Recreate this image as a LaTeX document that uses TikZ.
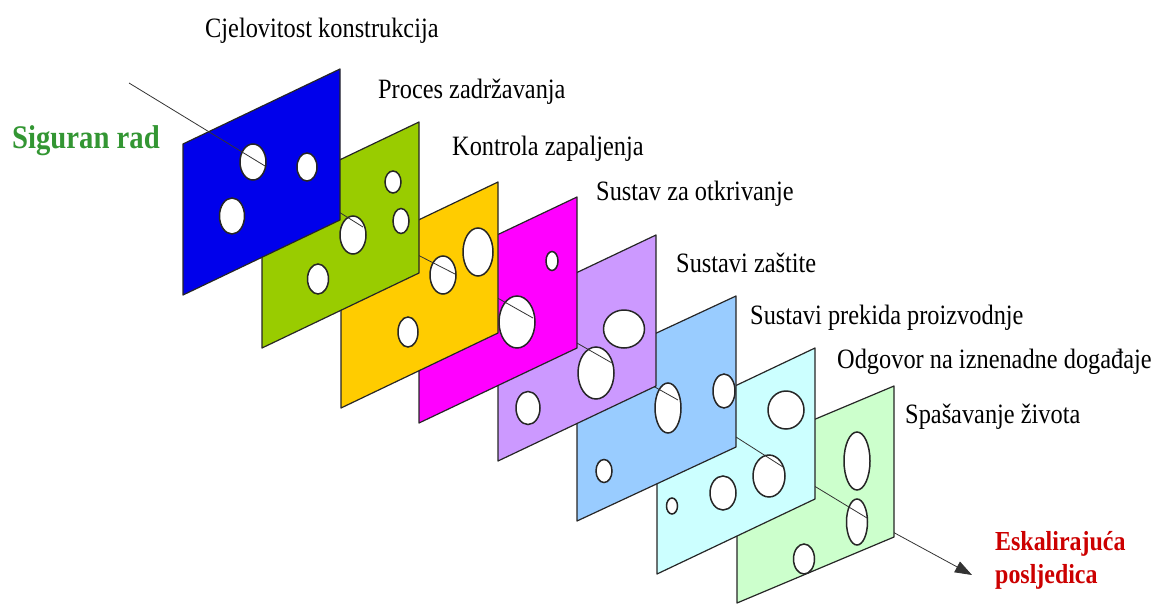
\documentclass[tikz,border=0pt]{standalone}
\usepackage{fontspec}
\setmainfont{Liberation Serif}[FakeStretch=0.87]
\usetikzlibrary{arrows.meta}

\definecolor{plava}{RGB}{0,0,235}
\definecolor{zelena}{RGB}{153,204,0}
\definecolor{zuta}{RGB}{255,204,0}
\definecolor{ruzicasta}{RGB}{255,0,255}
\definecolor{ljubicasta}{RGB}{204,153,255}
\definecolor{svijetloplava}{RGB}{153,204,255}
\definecolor{cijan}{RGB}{204,255,255}
\definecolor{svijetlozelena}{RGB}{204,255,204}
\definecolor{natpiszeleni}{RGB}{51,150,51}
\definecolor{natpiscrveni}{RGB}{204,0,0}

\tikzset{
  ploca/.style={draw=black!85,line width=1.2pt,line join=round},
  rupa/.style={draw=black!85,fill=white,line width=1.5pt},
  linija/.style={draw=black!80,line width=0.8pt},
  natpis/.style={anchor=base west,inner sep=0pt,font=\fontsize{28}{32}\selectfont},
}

\begin{document}
\begin{tikzpicture}[x=1pt,y=-1pt]
        \useasboundingbox (0,0) rectangle (1154,608);

        % Paso 1: Define los puntos de la linea
        \coordinate (P0) at (129,83);
        \coordinate (P1) at (265,166);
        \coordinate (P2) at (363,227);
        \coordinate (P3) at (455,274);
        \coordinate (P4) at (533,318);
        \coordinate (P5) at (612,363);
        \coordinate (P6) at (678,400);
        \coordinate (P7) at (783,467);
        \coordinate (P8) at (867,518);
        \coordinate (P9) at (972,575);

        % Paso 2: Dibuja las placas desde atras hacia adelante
        \draw[linija,-{Triangle[length=17pt,width=12pt]}] (P8) -- (P9);
        \draw[ploca,fill=svijetlozelena] (737,603) -- (737,452) -- (894,386) -- (894,537) -- cycle;
        \draw[rupa] (857,461) ellipse [x radius=13pt, y radius=29pt];
        \draw[rupa] (857,522) ellipse [x radius=10.5pt, y radius=23pt];
        \draw[rupa] (804,559) ellipse [x radius=10.5pt, y radius=15pt];

        \draw[linija] (P7) -- (P8);
        \draw[ploca,fill=cijan] (657,574) -- (657,423) -- (815,348) -- (815,499) -- cycle;
        \draw[rupa] (786,410) ellipse [x radius=18pt, y radius=19pt];
        \draw[rupa] (769,476) ellipse [x radius=16pt, y radius=21pt];
        \draw[rupa] (723,493) ellipse [x radius=13pt, y radius=17pt];
        \draw[rupa] (672,506) ellipse [x radius=5.5pt, y radius=8pt];

        \draw[linija] (P6) -- (P7);
        \draw[ploca,fill=svijetloplava] (577,521) -- (577,370) -- (736,296) -- (736,447) -- cycle;
        \draw[rupa] (668,408) ellipse [x radius=13pt, y radius=25pt];
        \draw[rupa] (724,391) ellipse [x radius=11pt, y radius=17pt];
        \draw[rupa] (604,471) ellipse [x radius=8pt, y radius=11.5pt];

        \draw[linija] (P5) -- (P6);
        \draw[ploca,fill=ljubicasta] (498,461) -- (498,310) -- (656,235) -- (656,386) -- cycle;
        \draw[rupa] (624,329) ellipse [x radius=20.5pt, y radius=19pt];
        \draw[rupa] (596,373) ellipse [x radius=18pt, y radius=26pt];
        \draw[rupa] (528,408) ellipse [x radius=12pt, y radius=16.5pt];

        \draw[linija] (P4) -- (P5);
        \draw[ploca,fill=ruzicasta] (419,423) -- (419,272) -- (577,197) -- (577,348) -- cycle;
        \draw[rupa] (552,261) ellipse [x radius=6pt, y radius=9.5pt];
        \draw[rupa] (517,322) ellipse [x radius=18pt, y radius=26pt];

        \draw[linija] (P3) -- (P4);
        \draw[ploca,fill=zuta] (341,408) -- (341,257) -- (498,182) -- (498,333) -- cycle;
        \draw[rupa] (478,252) ellipse [x radius=15pt, y radius=24pt];
        \draw[rupa] (443,275) ellipse [x radius=13pt, y radius=19pt];
        \draw[rupa] (408,332) ellipse [x radius=10pt, y radius=15pt];

        \draw[linija] (P2) -- (P3);
        \draw[ploca,fill=zelena] (262,348) -- (262,197) -- (419,122) -- (419,273) -- cycle;
        \draw[rupa] (393,182) ellipse [x radius=8pt, y radius=11pt];
        \draw[rupa] (401,221) ellipse [x radius=8pt, y radius=12.5pt];
        \draw[rupa] (353,235) ellipse [x radius=13pt, y radius=19pt];
        \draw[rupa] (318,279) ellipse [x radius=10.5pt, y radius=15pt];

        \draw[linija] (P1) -- (P2);
        \draw[ploca,fill=plava] (183,295) -- (183,144) -- (340,69) -- (340,220) -- cycle;
        \draw[rupa] (253,162) ellipse [x radius=13pt, y radius=18pt];
        \draw[rupa] (307,167) ellipse [x radius=10pt, y radius=14pt];
        \draw[rupa] (232,216) ellipse [x radius=12.5pt, y radius=18pt];

        \draw[linija] (P0) -- (P1);

        % Paso 3: Agrega los nombres de las placas
        \node[natpis] (n1) at (205,37) {Cjelovitost konstrukcija};
        \node[natpis] (n2) at (378,98) {Proces zadržavanja};
        \node[natpis] (n3) at (452,155) {Kontrola zapaljenja};
        \node[natpis] (n4) at (596,200) {Sustav za otkrivanje};
        \node[natpis] (n5) at (676,272) {Sustavi zaštite};
        \node[natpis] (n6) at (750,324) {Sustavi prekida proizvodnje};
        \node[natpis] (n7) at (837,368) {Odgovor na iznenadne događaje};
        \node[natpis] (n8) at (905,423) {Spašavanje života};

        % Paso 4: Agrega el inicio y el final
        \node[natpis,font=\fontsize{33}{36}\selectfont\bfseries,text=natpiszeleni] (pocetak) at (12,148) {Siguran rad};
        \node[natpis,font=\fontsize{27.5}{33}\selectfont\bfseries,text=natpiscrveni] (kraj) at (995,550) {Eskalirajuća};
        \node[natpis,font=\fontsize{27.5}{33}\selectfont\bfseries,text=natpiscrveni] (kraj2) at (995,583) {posljedica};
    \end{tikzpicture}
\end{document}
